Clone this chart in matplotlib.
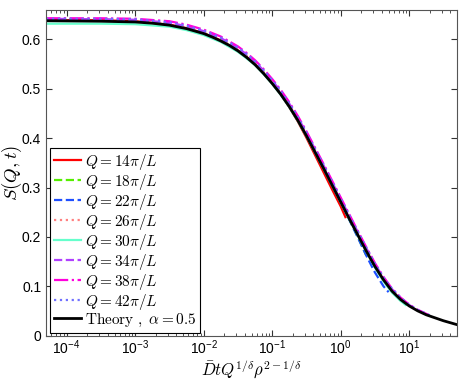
import numpy as np
import matplotlib
matplotlib.use("Agg")
import matplotlib.pyplot as plt

plt.rcParams['font.family'] = ['Liberation Sans', 'DejaVu Sans']
plt.rcParams['mathtext.fontset'] = 'cm'

# Theory curve: log10(x) positions and values
th_logx = [-4.3, -3.5, -3.0, -2.75, -2.5, -2.25, -2.0, -1.875, -1.75, -1.625, -1.5, -1.375,
           -1.25, -1.125, -1.0, -0.875, -0.75, -0.625, -0.5, -0.375, -0.25, -0.125, 0.0,
           0.125, 0.25, 0.375, 0.5, 0.625, 0.75, 0.875, 1.0, 1.125, 1.25, 1.375, 1.5, 1.6, 1.7]
th_y = [0.638, 0.637, 0.6355, 0.633, 0.629, 0.622, 0.612, 0.605, 0.597, 0.588, 0.577, 0.564,
        0.549, 0.531, 0.511, 0.489, 0.464, 0.436, 0.405, 0.372, 0.339, 0.305, 0.271,
        0.237, 0.204, 0.171, 0.140, 0.113, 0.090, 0.073, 0.060, 0.050, 0.042, 0.036, 0.030, 0.026, 0.022]

# Simulation curves (log10(x) grid shared, each curve ends where it ends in the picture)
grid = [-4.3, -3.5, -3.0, -2.5, -2.25, -2.0, -1.75, -1.5, -1.375, -1.25, -1.125, -1.0,
        -0.875, -0.75, -0.625, -0.5, -0.375, -0.25, -0.125, 0.0, 0.125, 0.25, 0.375,
        0.5, 0.625, 0.75, 0.875, 1.0, 1.125, 1.25]

q14_logx = grid[:20] + [0.07]
q14_y = [0.639, 0.639, 0.637, 0.630, 0.623, 0.613, 0.598, 0.578, 0.565, 0.550, 0.532, 0.511,
         0.489, 0.463, 0.434, 0.401, 0.366, 0.331, 0.296, 0.262, 0.240]

q18_logx = grid[:23]
q18_y = [0.641, 0.640, 0.638, 0.631, 0.624, 0.614, 0.599, 0.579, 0.566, 0.551, 0.533, 0.513,
         0.491, 0.466, 0.438, 0.407, 0.374, 0.341, 0.307, 0.272, 0.236, 0.200, 0.162]

q22_logx = grid[:25] + [0.7]
q22_y = [0.640, 0.640, 0.638, 0.631, 0.623, 0.613, 0.598, 0.579, 0.566, 0.551, 0.533, 0.513,
         0.491, 0.466, 0.438, 0.407, 0.374, 0.340, 0.306, 0.271, 0.235, 0.199, 0.162,
         0.128, 0.100, 0.088]

q26_logx = grid[:27]
q26_y = [0.641, 0.640, 0.638, 0.632, 0.625, 0.615, 0.600, 0.580, 0.567, 0.552, 0.534, 0.514,
         0.492, 0.467, 0.439, 0.408, 0.375, 0.342, 0.308, 0.274, 0.240, 0.207, 0.174,
         0.143, 0.115, 0.092, 0.075]

q30_logx = grid[:27] + [0.95]
q30_y = [0.632, 0.632, 0.631, 0.626, 0.619, 0.609, 0.595, 0.575, 0.562, 0.548, 0.530, 0.510,
         0.488, 0.463, 0.435, 0.404, 0.371, 0.338, 0.304, 0.270, 0.236, 0.203, 0.170,
         0.138, 0.110, 0.087, 0.070, 0.062]

q34_logx = grid[:30]
q34_y = [0.642, 0.641, 0.640, 0.634, 0.627, 0.617, 0.603, 0.583, 0.570, 0.555, 0.537, 0.517,
         0.495, 0.470, 0.442, 0.411, 0.378, 0.345, 0.311, 0.277, 0.243, 0.210, 0.177,
         0.145, 0.117, 0.094, 0.076, 0.062, 0.052, 0.044]

q38_logx = grid[:30] + [1.3]
q38_y = [0.643, 0.643, 0.642, 0.637, 0.630, 0.620, 0.606, 0.586, 0.573, 0.558, 0.540, 0.520,
         0.498, 0.473, 0.445, 0.414, 0.381, 0.348, 0.314, 0.280, 0.246, 0.212, 0.179,
         0.147, 0.119, 0.095, 0.077, 0.063, 0.052, 0.044, 0.041]

q42_logx = grid[:30] + [1.3]
q42_y = [0.642, 0.642, 0.641, 0.635, 0.628, 0.618, 0.604, 0.584, 0.571, 0.556, 0.538, 0.518,
         0.496, 0.471, 0.443, 0.412, 0.379, 0.346, 0.312, 0.278, 0.244, 0.211, 0.178,
         0.146, 0.118, 0.095, 0.077, 0.062, 0.052, 0.044, 0.041]

labels = [r'$Q=14\pi/L$', r'$Q=18\pi/L$', r'$Q=22\pi/L$', r'$Q=26\pi/L$',
          r'$Q=30\pi/L$', r'$Q=34\pi/L$', r'$Q=38\pi/L$', r'$Q=42\pi/L$']
series = [(q14_logx, q14_y), (q18_logx, q18_y), (q22_logx, q22_y), (q26_logx, q26_y),
          (q30_logx, q30_y), (q34_logx, q34_y), (q38_logx, q38_y), (q42_logx, q42_y)]
colors = ['#ff0000', '#55ee00', '#1f4fff', '#ff8080', '#66ffcc', '#b040ff', '#ff00dd', '#7070ff']
styles = ['-', '--', '--', ':', '-', '--', '-.', ':']

fig = plt.figure(figsize=(4.63, 3.8), dpi=100)
ax = fig.add_axes([0.0994, 0.117, 0.8877, 0.857])

for (lx, y), lab, c, ls in zip(series, labels, colors, styles):
    ax.plot(10 ** np.array(lx), y, ls, color=c, lw=1.6, label=lab)
ax.plot(10 ** np.array(th_logx), th_y, '-', color='black', lw=2,
        label=r'$\mathrm{Theory}\ ,\ \alpha=0.5$')

ax.set_xscale('log')
ax.set_xlim(5e-5, 50)
ax.set_ylim(0, 0.66)
ax.set_yticks([0, 0.1, 0.2, 0.3, 0.4, 0.5, 0.6])
ax.set_yticklabels(['0', '0.1', '0.2', '0.3', '0.4', '0.5', '0.6'])
ax.set_xticks([1e-4, 1e-3, 1e-2, 1e-1, 1e0, 1e1])
ax.set_xticklabels([r'$\mathregular{10^{%d}}$' % e for e in [-4, -3, -2, -1, 0, 1]])
ax.tick_params(which='both', direction='in', top=True, right=True, labelsize=10,
               colors='#333333', labelcolor='black')
ax.tick_params(axis='x', which='major', pad=2)
ax.tick_params(which='major', length=4)
ax.tick_params(which='minor', length=2)
for s in ax.spines.values():
    s.set_color('#555555')
ax.set_ylabel(r'$S(Q,t)$', fontsize=13.5)
ax.yaxis.set_label_coords(-0.053, 0.5)
ax.set_xlabel(r'$\bar{D}tQ^{1/\delta}\rho^{2-1/\delta}$', fontsize=12)
ax.xaxis.set_label_coords(0.5, -0.07)

leg = ax.legend(loc='lower left', bbox_to_anchor=(0.009, 0.009), borderaxespad=0, fontsize=11,
                frameon=True, fancybox=False, edgecolor='black', framealpha=1,
                handlelength=1.8, handletextpad=0.25, labelspacing=0.0, borderpad=0.25)
leg.get_frame().set_linewidth(0.8)

fig.savefig('out.png', dpi=100)
